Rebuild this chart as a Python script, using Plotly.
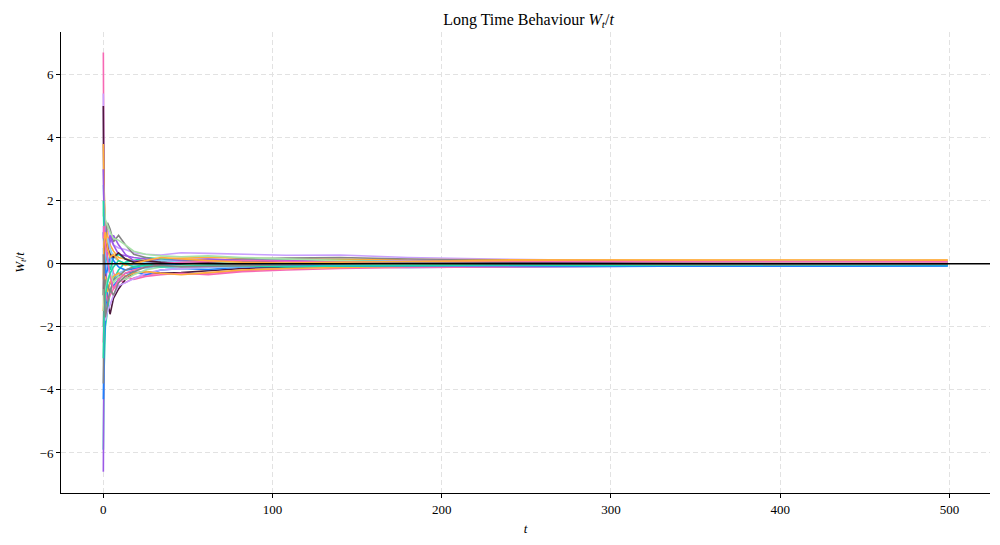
import plotly.graph_objects as go

# time points sampled along each path
t_vals = [0.02, 0.4, 1.2, 2.5, 4, 6, 9, 13, 18, 25, 34, 46, 62, 82, 108, 140, 180, 230, 290, 360, 430, 499]

# W_t / t, one list per path
paths = [
    [6.7, 2.1, 1.2, 0.6, 0.2, -0.3, -0.5, -0.6, -0.45, -0.35, -0.3, -0.33, -0.3, -0.22, -0.15, -0.08, -0.05, -0.03, 0.0, 0.02, 0.03, 0.05],
    [5.4, 1.5, 0.9, 1.1, 0.8, 0.6, 0.5, 0.45, 0.35, 0.3, 0.28, 0.35, 0.33, 0.3, 0.27, 0.28, 0.2, 0.15, 0.1, 0.06, 0.02, -0.02],
    [5.0, 1.0, -0.5, -1.2, -1.6, -1.1, -0.8, -0.5, -0.3, -0.25, -0.3, -0.28, -0.22, -0.15, -0.1, -0.05, -0.02, 0.02, 0.04, 0.05, 0.04, 0.03],
    [3.8, 2.5, 1.3, 0.9, 0.6, 0.4, 0.2, 0.15, 0.1, 0.12, 0.15, 0.18, 0.2, 0.17, 0.15, 0.14, 0.13, 0.12, 0.12, 0.11, 0.1, 0.1],
    [-5.9, -3.5, -2.0, -1.5, -0.9, -0.5, -0.2, 0.05, 0.1, 0.2, 0.15, 0.1, 0.08, 0.1, 0.12, 0.1, 0.08, 0.06, 0.05, 0.05, 0.04, 0.04],
    [-6.6, -2.5, -1.0, 0.3, 0.7, 0.9, 0.6, 0.3, 0.1, 0.05, 0.0, 0.05, 0.1, 0.12, 0.1, 0.08, 0.05, 0.05, 0.06, 0.06, 0.05, 0.06],
    [-4.3, -2.8, -1.5, -0.8, -0.6, -0.7, -0.5, -0.3, -0.25, -0.35, -0.2, -0.15, -0.18, -0.1, -0.08, -0.1, -0.12, -0.1, -0.08, -0.07, -0.06, -0.05],
    [-3.8, -1.2, 0.8, 1.3, 1.1, 0.7, 0.9, 0.6, 0.3, 0.2, 0.1, 0.08, 0.1, 0.15, 0.18, 0.2, 0.15, 0.1, 0.08, 0.06, 0.04, 0.05],
    [2.5, 1.8, 0.5, -0.3, 0.4, -0.6, -0.3, -0.2, -0.1, -0.15, -0.1, -0.15, -0.12, -0.1, -0.05, -0.02, -0.05, -0.08, -0.06, -0.05, -0.04, -0.03],
    [1.5, 2.0, 1.4, 1.2, 1.0, 0.8, 0.75, 0.6, 0.4, 0.3, 0.25, 0.22, 0.25, 0.2, 0.15, 0.1, 0.05, 0.0, -0.02, -0.01, 0.0, 0.01],
    [-2.5, -1.5, -0.8, -1.2, -1.0, -0.8, -0.6, -0.4, -0.5, -0.4, -0.35, -0.3, -0.35, -0.25, -0.2, -0.15, -0.12, -0.1, -0.08, -0.06, -0.05, -0.04],
    [1.2, -1.0, -1.8, -1.5, -1.3, -1.0, -0.7, -0.6, -0.45, -0.3, -0.2, -0.15, -0.1, -0.05, 0.0, 0.05, 0.1, 0.08, 0.05, 0.02, 0.0, -0.03],
    [3.0, 1.5, 0.8, 0.5, 0.9, 0.6, 0.3, 0.25, 0.2, 0.15, 0.1, 0.12, 0.15, 0.1, 0.05, 0.02, -0.02, -0.05, -0.08, -0.06, -0.04, -0.05],
    [-1.5, -0.7, -0.4, -0.9, -0.6, -0.4, -0.3, -0.4, -0.3, -0.25, -0.3, -0.35, -0.28, -0.2, -0.15, -0.12, -0.08, -0.02, 0.03, 0.07, 0.1, 0.12],
    [2.0, 0.8, 0.3, 0.1, -0.2, 0.2, 0.3, 0.15, 0.05, -0.05, 0.0, 0.05, 0.03, 0.0, -0.02, -0.03, -0.04, -0.05, -0.05, -0.06, -0.07, -0.06],
    [0.5, -0.5, 0.2, 0.8, 0.5, 0.2, 0.1, 0.0, -0.05, 0.05, 0.1, 0.05, 0.0, -0.05, -0.08, -0.06, -0.02, 0.02, 0.05, 0.08, 0.1, 0.09],
    [1.0, 0.4, -0.3, -0.2, 0.3, 0.1, -0.1, -0.2, -0.15, -0.1, -0.05, -0.02, 0.0, -0.03, -0.06, -0.08, -0.07, -0.06, -0.08, -0.09, -0.08, -0.07],
    [-2.0, -1.0, -0.5, -0.7, -0.9, -0.5, -0.4, -0.2, -0.1, 0.0, 0.05, 0.02, -0.05, -0.02, 0.03, 0.05, 0.08, 0.1, 0.08, 0.05, 0.03, 0.02],
    [-1.0, 0.5, 0.8, 0.5, 0.3, 0.2, 0.35, 0.15, 0.05, 0.1, 0.05, 0.0, 0.05, 0.08, 0.04, 0.0, 0.02, 0.03, 0.02, 0.01, 0.0, 0.0],
    [-0.8, -1.5, -0.9, -0.5, -0.3, -0.6, -0.4, -0.5, -0.35, -0.2, -0.1, -0.05, 0.0, 0.05, 0.03, 0.0, -0.03, -0.02, 0.0, 0.02, 0.03, 0.04],
    [0.8, 1.2, 0.6, 0.2, -0.4, -0.8, -0.5, -0.3, -0.2, -0.1, 0.0, 0.05, 0.08, 0.1, 0.08, 0.05, 0.06, 0.08, 0.07, 0.06, 0.05, 0.06],
    [-0.5, 0.7, 1.0, 0.5, 0.2, 0.3, 0.1, -0.05, 0.0, 0.1, 0.2, 0.15, 0.1, 0.05, 0.02, 0.05, 0.08, 0.1, 0.12, 0.13, 0.12, 0.11],
    [-3.0, -1.8, -1.0, -0.6, -0.3, -0.1, 0.1, 0.0, -0.1, -0.05, -0.1, -0.08, -0.05, -0.07, -0.09, -0.07, -0.05, -0.04, -0.05, -0.04, -0.03, -0.02],
    [0.3, -0.8, -1.7, -1.3, -0.8, -1.0, -0.6, -0.4, -0.25, -0.1, -0.05, -0.1, -0.08, -0.05, -0.03, 0.0, 0.02, 0.0, -0.02, -0.03, -0.02, -0.01],
]

palette = ["#f768b4", "#c9a0ff", "#4e1a3d", "#ffad3b", "#1ed9a8",
           "#9b59e6", "#1e7fff", "#858585", "#87cefa", "#a8e2a8"]
path_colors = [palette[0], palette[1], palette[2], palette[3], palette[4],
               palette[5], palette[6], palette[7], palette[8], palette[9],
               palette[0], palette[1], palette[5], palette[3], palette[4],
               palette[8], palette[6], palette[7], palette[2], palette[9],
               palette[0], palette[3], palette[4], palette[7]]

x_ticks = [0, 100, 200, 300, 400, 500]
y_ticks = [-6, -4, -2, 0, 2, 4, 6]

fig = go.Figure()
for vals, col in zip(paths, path_colors):
    fig.add_trace(go.Scatter(x=t_vals, y=vals, mode="lines",
                             line=dict(color=col, width=1.6), opacity=1.0,
                             showlegend=False, hoverinfo="skip"))

fig.add_shape(type="line", xref="paper", yref="y", x0=0, x1=1, y0=0, y1=0,
              line=dict(color="black", width=1.5), layer="above")

font_family = "Liberation Serif, DejaVu Serif, serif"
grid_dash = "5px,3px"
fig.update_layout(
    width=1000, height=545,
    margin=dict(l=61, r=10, t=32, b=52),
    plot_bgcolor="white", paper_bgcolor="white",
    font=dict(family=font_family, size=13, color="black"),
    title=dict(text="Long Time Behaviour <i>W<sub>t</sub></i>/<i>t</i>",
               x=0.5285, xanchor="center", y=0.975, yanchor="top",
               font=dict(size=16, family=font_family)),
)
fig.update_xaxes(range=[-25, 524], tickvals=x_ticks, ticks="outside", ticklen=4,
                 tickcolor="black", showline=True, linecolor="black", linewidth=1,
                 showgrid=True, gridcolor="#e2e2e2", griddash=grid_dash, gridwidth=1,
                 zeroline=False, title=dict(text="<i>t</i>", standoff=8, font=dict(size=13)),
                 tickfont=dict(size=13))
fig.update_yaxes(range=[-7.27, 7.35], tickvals=y_ticks, ticks="outside", ticklen=4,
                 tickcolor="black", showline=True, linecolor="black", linewidth=1,
                 showgrid=True, gridcolor="#e2e2e2", griddash=grid_dash, gridwidth=1,
                 zeroline=False, title=dict(text="<i>W<sub>t</sub></i>/<i>t</i>", standoff=12, font=dict(size=13)),
                 tickfont=dict(size=13))

fig.write_html("out.html")
